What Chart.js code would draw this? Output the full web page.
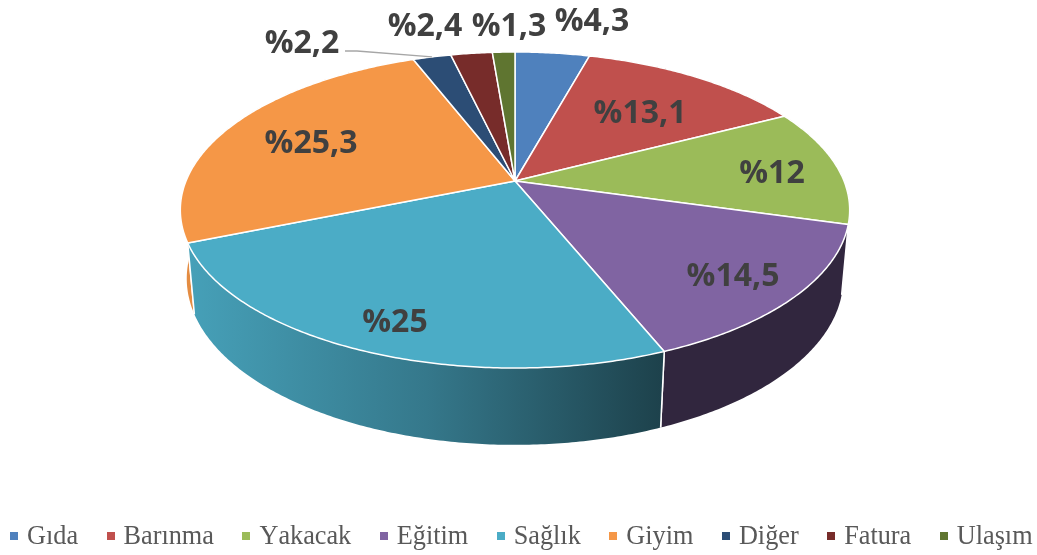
<!DOCTYPE html>
<html>
<head>
<meta charset="utf-8">
<style>
  html, body { margin: 0; padding: 0; background: #fff; }
  #wrap { position: relative; width: 1037px; height: 555px; overflow: hidden; }
  #legend {
    position: absolute; left: 10px; top: 521px; display: flex; white-space: nowrap;
    font: 26.25px/30px "Liberation Serif", serif; color: #595959; font-kerning: none;
  }
  #legend .item { display: flex; align-items: center; margin-right: 28.5px; }
  #legend .box { width: 8px; height: 8px; margin-right: 9px; }
</style>
<script src="https://cdn.jsdelivr.net/npm/chart.js@4/dist/chart.umd.js"></script>
</head>
<body>
<div id="wrap">
  <canvas id="chart" width="1037" height="555"></canvas>
  <div id="legend"></div>
</div>
<script>
const categories = ['Gıda', 'Barınma', 'Yakacak', 'Eğitim', 'Sağlık', 'Giyim', 'Diğer', 'Fatura', 'Ulaşım'];
const shares = [4.3, 13.1, 12, 14.5, 25, 25.3, 2.2, 2.4, 1.3];
const shareLabels = ['%4,3', '%13,1', '%12', '%14,5', '%25', '%25,3', '%2,2', '%2,4', '%1,3'];
const sliceColors = ['#4F81BD', '#C0504D', '#9BBB59', '#8064A2', '#4BACC6', '#F59747', '#2C4D75', '#772C2A', '#5F7530'];

// label centres, relative to the pie's apex
const labelOffsets = [[77, -162], [125, -70], [257, -10], [218, 93], [-120, 139], [-204, -40], [-213, -140], [-90, -157], [-6, -157]];

// perspective of the tilted disc: k pulls the near edge out, the far edge in
const topRing = {cx: 515, cy: 181, rx: 329, ry: 152.7, k: -0.1835};
const bottomRing = {cx: 515, cy: 249, rx: 323, ry: 161, k: -0.178};

function ringPoint(ring, angle) {
  let u = Math.sin(angle), v = -Math.cos(angle);
  let d = 1 + ring.k * v;
  return [ring.cx + ring.rx * u / d, ring.cy + ring.ry * v / d];
}

function shade(hex, f) {
  let n = parseInt(hex.slice(1), 16);
  return `rgb(${Math.round((n >> 16) * f)},${Math.round(((n >> 8) & 255) * f)},${Math.round((n & 255) * f)})`;
}

function sliceAngles(elem) {
  let p = elem.getProps(['startAngle', 'endAngle'], true);
  return [p.startAngle + Math.PI / 2, p.endAngle + Math.PI / 2];
}

function traceArc(ctx, ring, a0, a1) {
  let steps = Math.max(2, Math.ceil(Math.abs(a1 - a0) / 0.01));
  for (let i = 0; i <= steps; i++) {
    let pt = ringPoint(ring, a0 + (a1 - a0) * i / steps);
    ctx.lineTo(pt[0], pt[1]);
  }
}

// top face of each slice, drawn by the library's own element loop
Chart.ArcElement.prototype.draw = function(ctx) {
  let [a0, a1] = sliceAngles(this);
  ctx.save();
  ctx.beginPath();
  ctx.moveTo(topRing.cx, topRing.cy);
  traceArc(ctx, topRing, a0, a1);
  ctx.closePath();
  ctx.fillStyle = this.options.backgroundColor;
  ctx.fill();
  ctx.strokeStyle = '#fff';
  ctx.lineWidth = 1.5;
  ctx.lineJoin = 'round';
  ctx.stroke();
  ctx.restore();
};

const wallsPlugin = {
  id: 'walls',
  beforeDatasetsDraw(chart) {
    let ctx = chart.ctx;
    let elems = chart.getDatasetMeta(0).data.map(e => e);
    let nearness = e => {
      let [a0, a1] = sliceAngles(e);
      return -Math.abs((a0 + a1) / 2 - Math.PI);
    };
    elems.sort((a, b) => nearness(a) - nearness(b));
    elems.forEach(e => {
      let [a0, a1] = sliceAngles(e);
      let base = e.options.backgroundColor;
      let grad = ctx.createLinearGradient(190, 0, 664, 0);
      grad.addColorStop(0, shade(base, 0.93));
      grad.addColorStop(0.5, shade(base, 0.7));
      grad.addColorStop(1, shade(base, 0.38));
      ctx.save();
      ctx.beginPath();
      traceArc(ctx, topRing, a0, a1);
      traceArc(ctx, bottomRing, a1, a0);
      ctx.closePath();
      ctx.fillStyle = grad;
      ctx.fill();
      // only the side seams get a white line
      ctx.strokeStyle = '#fff';
      ctx.lineWidth = 1.5;
      [a0, a1].forEach(a => {
        let t = ringPoint(topRing, a), b = ringPoint(bottomRing, a);
        ctx.beginPath();
        ctx.moveTo(t[0], t[1]);
        ctx.lineTo(b[0], b[1]);
        ctx.stroke();
      });
      ctx.restore();
    });
  }
};

const labelsPlugin = {
  id: 'sliceLabels',
  afterDatasetsDraw(chart) {
    let ctx = chart.ctx;
    let elems = chart.getDatasetMeta(0).data;
    ctx.save();
    // leader for the Diğer label
    let [a0, a1] = sliceAngles(elems[6]);
    let tip = ringPoint(topRing, (a0 + a1) / 2);
    ctx.strokeStyle = '#a6a6a6';
    ctx.lineWidth = 1.3;
    ctx.beginPath();
    ctx.moveTo(topRing.cx + labelOffsets[6][0] + 43, topRing.cy + labelOffsets[6][1] + 10);
    ctx.lineTo(topRing.cx + labelOffsets[6][0] + 55, topRing.cy + labelOffsets[6][1] + 10);
    ctx.lineTo(tip[0], tip[1]);
    ctx.stroke();

    ctx.font = 'bold 32px "Open Sans"';
    ctx.fillStyle = '#404040';
    ctx.textAlign = 'center';
    ctx.textBaseline = 'middle';
    shareLabels.forEach((txt, i) => {
      ctx.fillText(txt, topRing.cx + labelOffsets[i][0], topRing.cy + labelOffsets[i][1] + 3);
    });
    ctx.restore();
  }
};

new Chart(document.getElementById('chart'), {
  type: 'pie',
  data: {
    labels: categories,
    datasets: [{data: shares, backgroundColor: sliceColors, borderColor: '#fff', borderWidth: 1}]
  },
  options: {
    responsive: false,
    animation: false,
    plugins: {
      tooltip: {enabled: false},
      legend: {display: false}
    }
  },
  plugins: [wallsPlugin, labelsPlugin]
});

categories.forEach((name, i) => {
  let item = document.createElement('div');
  item.className = 'item';
  let box = document.createElement('span');
  box.className = 'box';
  box.style.background = sliceColors[i];
  item.append(box, name);
  document.getElementById('legend').append(item);
});
</script>
</body>
</html>
